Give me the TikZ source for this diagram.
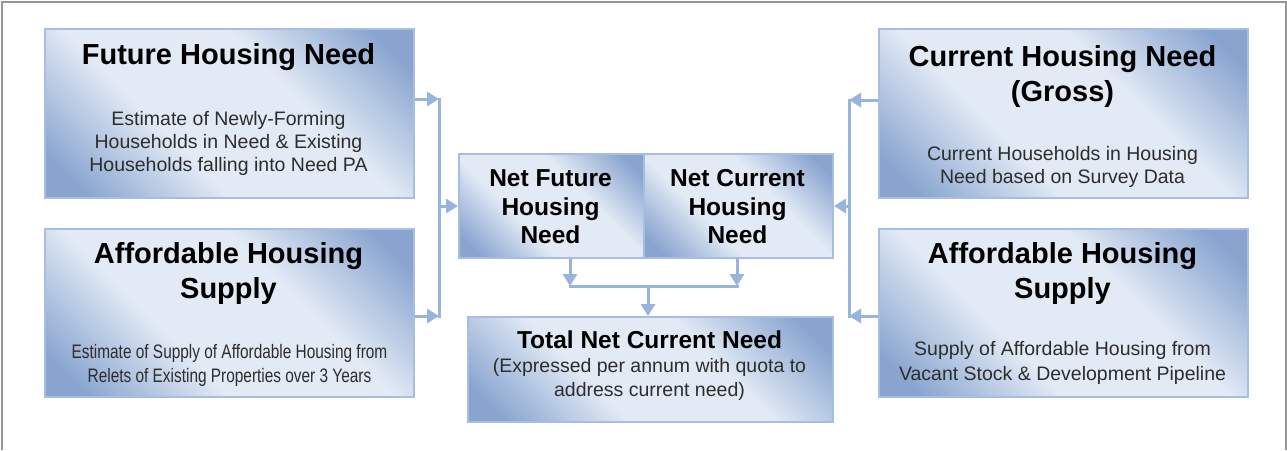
\documentclass[tikz,border=0pt]{standalone}
\usepackage{fontspec}
\setmainfont{Liberation Sans}
\usetikzlibrary{arrows.meta}
\definecolor{boxdark}{RGB}{136,164,207}
\definecolor{boxlight}{RGB}{226,234,245}
\definecolor{boxborder}{RGB}{165,190,226}
\definecolor{conncol}{RGB}{150,180,220}
\definecolor{framecol}{RGB}{150,150,150}
\definecolor{subtext}{RGB}{45,45,45}
\pgfdeclareverticalshading{boxshade}{100bp}{color(0bp)=(boxdark); color(20bp)=(boxdark); color(39bp)=(boxlight); color(61bp)=(boxlight); color(80bp)=(boxdark); color(100bp)=(boxdark)}
\tikzset{
  box/.style={draw=boxborder, line width=2pt, shading=boxshade, shading angle=-45,
    inner sep=0pt, anchor=north west},
  title/.style={align=center, inner sep=0pt, text=black,
    font=\fontsize{29}{35}\selectfont\bfseries},
  midtitle/.style={align=center, inner sep=0pt, text=black,
    font=\fontsize{24.5}{28.5}\selectfont\bfseries},
  sub/.style={align=center, inner sep=0pt, text=subtext,
    font=\fontsize{19.5}{23}\selectfont},
  conn/.style={draw=conncol, line width=3pt},
  arr/.style={conn, -{Triangle[length=12pt,width=14pt]}},
}
\begin{document}
\begin{tikzpicture}[x=1pt,y=-1pt]
\useasboundingbox (0,0) rectangle (1287,450);
\fill[white] (0,0) rectangle (1287,450);
\draw[framecol, line width=2pt] (2,450) -- (2,2) -- (1286,2) -- (1286,450);

% left boxes
\node[box, minimum width=369pt, minimum height=169pt] (fhn) at (44,28) {};
\node[title] (fhnT) at (228.5,57) {Future Housing Need};
\node[sub] (fhnS) at (228.5,143) {Estimate of Newly-Forming\\Households in Need \& Existing\\Households falling into Need PA};

\node[box, minimum width=369pt, minimum height=168pt] (lahs) at (44,228) {};
\node[title] (lahsT) at (228.5,273) {Affordable Housing\\Supply};
\node[sub, font=\fontsize{19.5}{24}\selectfont] (lahsS) at (229.5,365) {\scalebox{0.79}[1]{Estimate of Supply of Affordable Housing from}\\\scalebox{0.79}[1]{Relets of Existing Properties over 3 Years}};

% right boxes
\node[box, minimum width=369pt, minimum height=169pt] (chn) at (878,28) {};
\node[title] (chnT) at (1062.5,76) {Current Housing Need\\(Gross)};
\node[sub] (chnS) at (1062.5,166.5) {Current Households in Housing\\Need based on Survey Data};

\node[box, minimum width=369pt, minimum height=168pt] (rahs) at (878,228) {};
\node[title] (rahsT) at (1062.5,273) {Affordable Housing\\Supply};
\node[sub, font=\fontsize{19.5}{25}\selectfont] (rahsS) at (1062.5,363) {Supply of Affordable Housing from\\Vacant Stock \& Development Pipeline};

% centre
\node[box, minimum width=185pt, minimum height=104pt] (nfh) at (458,153) {};
\node[box, minimum width=189pt, minimum height=104pt] (nch) at (643,153) {};
\node[midtitle] (nfhT) at (550.5,207) {Net Future\\Housing\\Need};
\node[midtitle] (nchT) at (737.5,207) {Net Current\\Housing\\Need};

\node[box, minimum width=365pt, minimum height=105pt] (tnc) at (467,316) {};
\node[midtitle] (tncT) at (649.5,340) {Total Net Current Need};
\node[sub, font=\fontsize{19.5}{24}\selectfont] (tncS) at (649.5,379) {(Expressed per annum with quota to\\address current need)};

% buses
\coordinate (lb1) at (439,99);
\coordinate (lb2) at (439,316);
\coordinate (lbm) at (439,206);
\coordinate (rb1) at (849,100);
\coordinate (rb2) at (849,316);
\coordinate (rbm) at (849,206);
\coordinate (bl) at (570,286);
\coordinate (br) at (737,286);
\coordinate (bm) at (648,286);

\draw[conn, line cap=rect] (lb1) -- (lb2);
\draw[arr] (fhn.east |- lb1) -- (lb1);
\draw[arr] (lahs.east |- lb2) -- (lb2);
\draw[arr] (lbm) -- (nfh.west |- lbm);

\draw[conn, line cap=rect] (rb1) -- (rb2);
\draw[arr] (chn.west |- rb1) -- (rb1);
\draw[arr] (rahs.west |- rb2) -- (rb2);
\draw[arr] (rbm) -- (nch.east |- rbm);

\draw[conn, line cap=rect] (bl) -- (br);
\draw[arr] (nfh.south -| bl) -- (bl);
\draw[arr] (nch.south -| br) -- (br);
\draw[arr] (bm) -- (tnc.north -| bm);
\end{tikzpicture}
\end{document}
